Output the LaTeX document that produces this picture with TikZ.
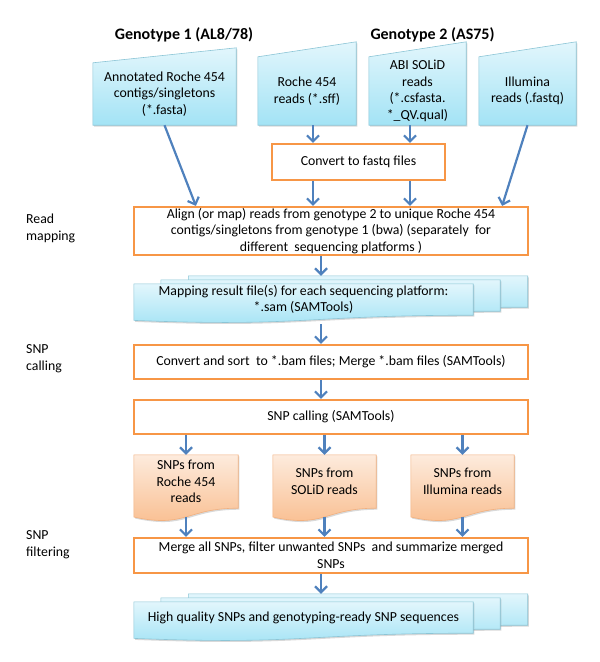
\documentclass[tikz,border=0pt]{standalone}
\usepackage{fontspec}
\setmainfont{Carlito}
\usetikzlibrary{calc,arrows.meta,shadows}

\definecolor{arrowblue}{HTML}{4F81BD}
\definecolor{boxorange}{HTML}{F79646}
\definecolor{cyantop}{HTML}{E2F6FC}
\definecolor{cyanbot}{HTML}{A3E3F5}
\definecolor{cyanedge}{HTML}{8CC5D6}
\definecolor{peachtop}{HTML}{FDEBDD}
\definecolor{peachbot}{HTML}{F9BC8C}
\definecolor{peachedge}{HTML}{F2B07E}

\pgfdeclarelayer{bg}
\pgfsetlayers{bg,main}

% wavy-bottom document outline around a node
\newcommand{\wavedoc}[2]{%
  \path[#1] (#2.north west) -- (#2.north east) -- (#2.south east)
    .. controls (#2.south) and ($(#2.north)!1.38!(#2.south)$)
    .. ($(#2.north west)!1.165!(#2.south west)$) -- cycle;}

% slanted-top input outline around a node
\newcommand{\inputdoc}[1]{%
  \path[cyanfill] (#1.south west) -- (#1.north west)
    -- ([yshift=15pt]#1.north east) -- (#1.south east) -- cycle;}

\begin{document}
\begin{tikzpicture}[x=1pt,y=-1pt,
  every node/.style={font=\fontsize{13.8}{16.5}\selectfont, align=center, inner sep=0pt},
  flow/.style={draw=arrowblue, line width=2.2pt, -{Straight Barb[length=6pt,width=12pt]}},
  stepbox/.style={draw=boxorange, line width=2.2pt, fill=white, rectangle},
  cyanfill/.style={top color=cyantop, bottom color=cyanbot, draw=cyanedge, line width=0.6pt,
    drop shadow={opacity=0.3, shadow xshift=1.2pt, shadow yshift=-1.5pt}},
  peachfill/.style={top color=peachtop, bottom color=peachbot, draw=peachedge, line width=0.6pt,
    drop shadow={opacity=0.3, shadow xshift=1.2pt, shadow yshift=-1.5pt}},
  title/.style={font=\fontsize{16}{19}\selectfont\bfseries},
  stage/.style={anchor=west, align=left, font=\fontsize{13.8}{17}\selectfont}
]
	\useasboundingbox (0,0) rectangle (600,662);
	
	% ---- Headings and stage labels ----
	\node[title] (g1) at (184,35) {Genotype 1 (AL8/78)};
	\node[title] (g2) at (432.5,35) {Genotype 2 (AS75)};
	\node[stage] (lab1) at (26,228.5) {Read\\mapping};
	\node[stage] (lab2) at (26,358.5) {SNP\\calling};
	\node[stage] (lab3) at (26,545) {SNP\\filtering};
	
	% ---- Input files (manual input shapes) ----
	\node[minimum width=143pt, minimum height=62pt] (in1) at (164.5,94)
		{Annotated Roche 454\\contigs/singletons\\(*.fasta)};
	\node[minimum width=98pt, minimum height=68pt] (in2) at (307,91) {Roche 454\\reads (*.sff)};
	\node[minimum width=97pt, minimum height=68pt] (in3) at (417.5,91)
		{ABI SOLiD\\reads\\(*.csfasta.\\*\_QV.qual)};
	\node[minimum width=97pt, minimum height=68pt] (in4) at (527.5,91) {Illumina\\reads (.fastq)};
	
	% ---- Processing steps ----
	\node[stepbox, minimum width=173pt, minimum height=36pt] (conv) at (358.5,162) {Convert to fastq files};
	\node[stepbox, minimum width=394pt, minimum height=48pt] (align) at (331,231)
		{Align (or map) reads from genotype 2 to unique Roche 454\\contigs/singletons from genotype 1 (bwa) (separately~ for\\different~ sequencing platforms )};
	\node[stepbox, minimum width=394pt, minimum height=34pt] (sort) at (331,362)
		{Convert and sort~ to *.bam files; Merge *.bam files (SAMTools)};
	\node[stepbox, minimum width=394pt, minimum height=34pt] (call) at (331,417) {SNP calling (SAMTools)};
	\node[stepbox, minimum width=394pt, minimum height=35pt] (merge) at (331,555.5)
		{Merge all SNPs, filter unwanted SNPs~ and summarize merged\\SNPs};
	
	% ---- Stacked result files ----
	\node[minimum width=339pt, minimum height=31pt] (mapb) at (358,291.5) {};
	\node[minimum width=339pt, minimum height=31pt] (mapm) at (330.5,295.5) {};
	\node[minimum width=339pt, minimum height=31pt] (map) at (303.5,299.5)
		{Mapping result file(s) for each sequencing platform:\\*.sam (SAMTools)};
	\node[minimum width=339pt, minimum height=31pt] (hqb) at (358,609.5) {};
	\node[minimum width=339pt, minimum height=31pt] (hqm) at (330.5,613.5) {};
	\node[minimum width=339pt, minimum height=31pt] (hq) at (303.5,617.5)
		{High quality SNPs and genotyping-ready SNP sequences};
	
	% ---- SNP files per platform ----
	\node[minimum width=104pt, minimum height=53pt] (snp1) at (186,481.5) {SNPs from\\Roche 454\\reads};
	\node[minimum width=103pt, minimum height=53pt] (snp2) at (324.5,481.5) {SNPs from\\SOLiD reads};
	\node[minimum width=103pt, minimum height=53pt] (snp3) at (462.5,481.5) {SNPs from\\Illumina reads};
	
	\begin{pgfonlayer}{bg}
		\inputdoc{in1} \inputdoc{in2} \inputdoc{in3} \inputdoc{in4}
		\wavedoc{cyanfill}{mapb} \wavedoc{cyanfill}{mapm} \wavedoc{cyanfill}{map}
		\wavedoc{cyanfill}{hqb} \wavedoc{cyanfill}{hqm} \wavedoc{cyanfill}{hq}
		\wavedoc{peachfill}{snp1} \wavedoc{peachfill}{snp2} \wavedoc{peachfill}{snp3}
	\end{pgfonlayer}
	
	% ---- Arrows ----
	\draw[flow] (in1.south) -- ([xshift=63pt]align.north west);
	\draw[flow] ([xshift=6pt]in2.south) -- ([xshift=-45.5pt]conv.north);
	\draw[flow] ([xshift=-7.5pt]in3.south) -- ([xshift=51.5pt]conv.north);
	\draw[flow] ([xshift=-45.5pt]conv.south) -- ([xshift=-18pt]align.north);
	\draw[flow] ([xshift=51.5pt]conv.south) -- ([xshift=79pt]align.north);
	\draw[flow] (in4.south) -- ([xshift=-27pt]align.north east);
	\draw[flow] ([xshift=-10pt]align.south) -- ([xshift=-37pt]mapb.north);
	\draw[flow] ([xshift=17.5pt,yshift=-9pt]map.south) -- ([xshift=-10pt]sort.north);
	\draw[flow] ([xshift=-10pt]sort.south) -- ([xshift=-10pt]call.north);
	\draw[flow] (call.south -| snp1.north) -- (snp1.north);
	\draw[flow] (call.south -| snp2.north) -- (snp2.north);
	\draw[flow] (call.south -| snp3.north) -- (snp3.north);
	\draw[flow] ([yshift=-9pt]snp1.south) -- (merge.north -| snp1.south);
	\draw[flow] ([yshift=-9pt]snp2.south) -- (merge.north -| snp2.south);
	\draw[flow] ([yshift=-9pt]snp3.south) -- (merge.north -| snp3.south);
	\draw[flow] ([xshift=-10pt]merge.south) -- ([xshift=-37pt]hqb.north);
	
\end{tikzpicture}
\end{document}
